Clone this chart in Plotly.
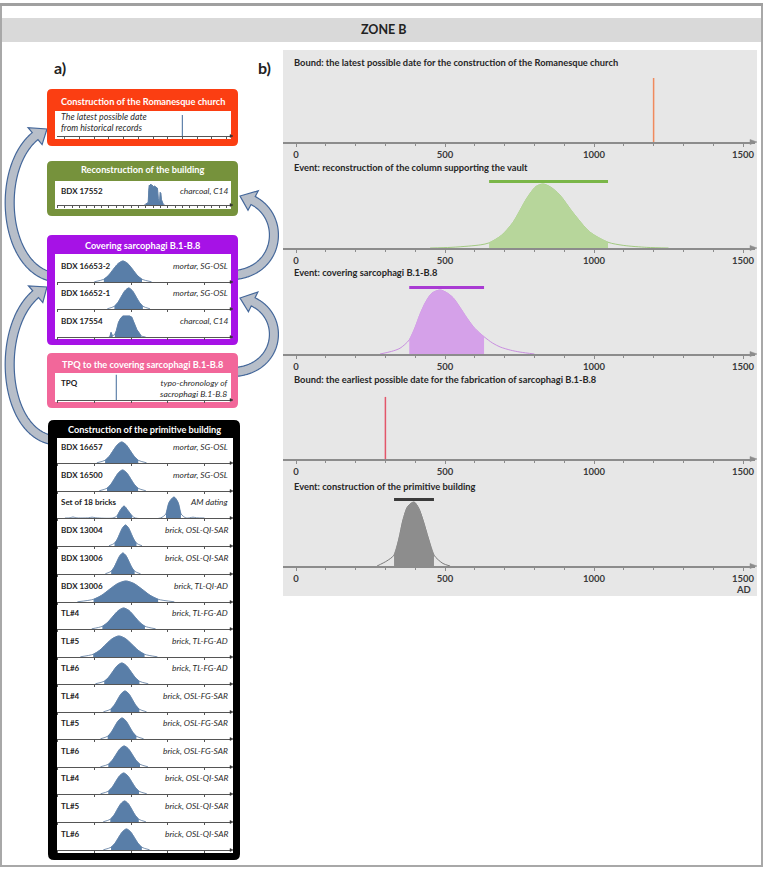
import numpy as np
import plotly.graph_objects as go

W, H = 767, 873
FONT = "Lato"

# ------------------------------------------------------------------ DATA ----
# Panel b : modelled results
b_titles = [
    "Bound: the latest possible date for the construction of the Romanesque church",
    "Event: reconstruction of the column supporting the vault",
    "Event: covering sarcophagi B.1-B.8",
    "Bound: the earliest possible date for the fabrication of sarcophagi B.1-B.8",
    "Event: construction of the primitive building",
]
b_tick_vals = [0, 500, 1000, 1500]
b_tick_text = ["0", "500", "1000", "1500"]
bound_latest_church = 1200
bound_earliest_sarco = 300

recon_years = [450, 520, 580, 620, 648, 690, 728, 775, 805, 829, 855, 885, 930, 986, 1047, 1100, 1177, 1250]
recon_dens = [0.0, 0.01, 0.03, 0.05, 0.08, 0.2, 0.4, 0.78, 0.96, 1.0, 0.95, 0.83, 0.55, 0.25, 0.09, 0.04, 0.01, 0.0]
recon_hpd = (648, 1047)

cover_years = [282, 320, 349, 380, 400, 416, 436, 456, 483, 505, 527, 550, 574, 600, 631, 660, 685, 720, 752, 800]
cover_dens = [0.0, 0.04, 0.09, 0.22, 0.42, 0.62, 0.82, 0.95, 1.0, 0.96, 0.88, 0.73, 0.56, 0.4, 0.27, 0.17, 0.11, 0.06, 0.03, 0.0]
cover_hpd = (380, 631)

prim_years = [272, 305, 329, 345, 359, 375, 396, 412, 426, 445, 463, 493, 517]
prim_dens = [0.0, 0.08, 0.17, 0.42, 0.72, 0.93, 1.0, 0.9, 0.72, 0.42, 0.17, 0.04, 0.0]
prim_hpd = (329, 463)

# Panel a : box titles
box_titles = [
    "Construction of the Romanesque church",
    "Reconstruction of the building",
    "Covering sarcophagi B.1-B.8",
    "TPQ to the covering sarcophagi B.1-B.8",
    "Construction of the primitive building",
]

# Romanesque church (historical record)
church_note = "The latest possible date<br>from historical records"
church_latest = 1200

# Reconstruction of the building
recon_a_label = ["BDX 17552"]
recon_a_method = ["charcoal, C14"]
recon_a_years = [680, 700, 720, 735, 742, 750, 760, 770, 780, 790, 800, 815, 830, 845, 860, 872, 880, 890, 898, 906, 915, 925, 940, 960]
recon_a_dens = [0.0, 0.04, 0.08, 0.12, 0.7, 0.95, 0.85, 1.0, 0.9, 0.95, 0.85, 0.9, 0.88, 0.85, 0.8, 0.3, 0.15, 0.2, 0.6, 0.55, 0.25, 0.1, 0.03, 0.0]
recon_a_hpd = [(700, 940)]

# Covering sarcophagi
cover_a_labels = ["BDX 16653-2", "BDX 16652-1", "BDX 17554"]
cover_a_methods = ["mortar, SG-OSL", "mortar, SG-OSL", "charcoal, C14"]
bdx16653_years = [0, 130, 195, 260, 325, 390, 455, 520, 585, 650, 780]
bdx16653_dens = [0.01, 0.13, 0.32, 0.61, 0.88, 1.0, 0.88, 0.61, 0.32, 0.13, 0.01]
bdx16653_hpd = [(130, 650)]
bdx16652_years = [177, 274, 323, 371, 420, 468, 517, 565, 614, 662, 759]
bdx16652_dens = [0.01, 0.13, 0.32, 0.61, 0.88, 1.0, 0.88, 0.61, 0.32, 0.13, 0.01]
bdx16652_hpd = [(274, 662)]
bdx17554_years = [200, 215, 228, 240, 250, 280, 300, 330, 360, 390, 420, 480, 510, 540, 580, 620, 640, 700]
bdx17554_dens = [0.0, 0.06, 0.22, 0.08, 0.06, 0.12, 0.3, 0.7, 0.9, 1.0, 1.0, 1.0, 0.95, 0.7, 0.35, 0.15, 0.04, 0.0]
bdx17554_hpd = [(215, 250), (280, 640)]

# TPQ
tpq_label = "TPQ"
tpq_note = "typo-chronology of<br>sacrophagi B.1-B.8"
tpq_year = 300

# Construction of the primitive building
prim_a_labels = ["BDX 16657", "BDX 16500", "Set of 18 bricks", "BDX 13004", "BDX 13006",
                 "BDX 13006", "TL#4", "TL#5", "TL#6", "TL#4", "TL#5", "TL#6", "TL#4", "TL#5", "TL#6"]
prim_a_methods = ["mortar, SG-OSL", "mortar, SG-OSL", "AM dating", "brick, OSL-QI-SAR", "brick, OSL-QI-SAR",
                  "brick, TL-QI-AD", "brick, TL-FG-AD", "brick, TL-FG-AD", "brick, TL-FG-AD",
                  "brick, OSL-FG-SAR", "brick, OSL-FG-SAR", "brick, OSL-FG-SAR",
                  "brick, OSL-QI-SAR", "brick, OSL-QI-SAR", "brick, OSL-QI-SAR"]
bell_dens = [0.01, 0.13, 0.32, 0.61, 0.88, 1.0, 0.88, 0.61, 0.32, 0.13, 0.01]
prim_a_years = [
    [34, 147, 204, 260, 317, 373, 430, 486, 543, 599, 712],
    [67, 173, 226, 279, 332, 385, 438, 491, 544, 597, 703],
    [-400, -330, -290, -250, -80, -30, 20, 250, 310, 350, 405, 460, 515, 560,
     900, 977, 1020, 1086, 1140, 1180, 1250, 1300, 1345, 1390, 1500],
    [200, 275, 313, 350, 388, 425, 463, 500, 538, 575, 650],
    [150, 230, 270, 310, 350, 390, 430, 470, 510, 550, 630],
    [-230, -10, 100, 210, 320, 430, 540, 650, 760, 870, 1090],
    [-35, 110, 183, 255, 328, 400, 473, 545, 618, 690, 835],
    [-190, -15, 73, 160, 248, 335, 423, 510, 598, 685, 860],
    [15, 135, 195, 255, 315, 375, 435, 495, 555, 615, 735],
    [124, 222, 271, 320, 369, 418, 467, 516, 565, 614, 712],
    [84, 182, 231, 280, 329, 378, 427, 476, 525, 574, 672],
    [83, 191, 245, 299, 353, 407, 461, 515, 569, 623, 731],
    [85, 190, 243, 295, 348, 400, 453, 505, 558, 610, 715],
    [121, 218, 267, 315, 364, 412, 461, 509, 558, 606, 703],
    [123, 228, 281, 333, 386, 438, 491, 543, 596, 648, 753],
]
am_dens = [0.0, 0.01, 0.05, 0.01, 0.01, 0.04, 0.01, 0.0, 0.1, 0.35, 0.57, 0.35, 0.1, 0.0,
           0.0, 0.2, 0.75, 1.0, 0.75, 0.2, 0.0, 0.01, 0.04, 0.01, 0.0]
prim_a_dens = [bell_dens, bell_dens, am_dens] + [bell_dens] * 12
prim_a_hpd = [
    [(147, 599)], [(173, 597)], [(310, 515), (977, 1180)], [(275, 575)], [(230, 550)],
    [(-10, 870)], [(110, 690)], [(-15, 685)], [(135, 615)], [(222, 614)],
    [(182, 574)], [(191, 623)], [(190, 610)], [(218, 606)], [(228, 648)],
]

# ---------------------------------------------------------------- HELPERS ---
def X(px):
    return px / W


def Y(py):
    return 1 - py / H


layout = dict(width=W, height=H, autosize=False, margin=dict(l=0, r=0, t=0, b=0, pad=0),
              paper_bgcolor="white", plot_bgcolor="rgba(0,0,0,0)", showlegend=False,
              font=dict(family=FONT, color="#222"), hovermode=False)
shapes, annotations, traces = [], [], []
n_axes = [0]


def new_axes(x0, x1, axis_py, height_px, xrange, ymax, xkw):
    n_axes[0] += 1
    n = n_axes[0]
    s = "" if n == 1 else str(n)
    layout["xaxis" + s] = dict(domain=[X(x0), X(x1)], range=xrange, anchor="y" + s, showgrid=False,
                               zeroline=False, fixedrange=True, **xkw)
    layout["yaxis" + s] = dict(domain=[Y(axis_py), Y(axis_py - height_px)], range=[0, ymax],
                               anchor="x" + s, visible=False, fixedrange=True)
    return "x" + s, "y" + s


def add_density(xs, ys, xa, ya, hpds, fill, line, shape="spline", lw=0.8):
    traces.append(go.Scatter(x=xs, y=ys, mode="lines", xaxis=xa, yaxis=ya,
                             line=dict(color=line, width=lw, shape=shape, smoothing=0.8)))
    for lo, hi in hpds:
        sx = [x for x in xs if lo <= x <= hi]
        sy = [y for x, y in zip(xs, ys) if lo <= x <= hi]
        traces.append(go.Scatter(x=sx, y=sy, mode="lines", fill="tozeroy", fillcolor=fill,
                                 xaxis=xa, yaxis=ya,
                                 line=dict(color=fill, width=0.6, shape=shape, smoothing=0.8)))


def rrect_path(x0, y0, x1, y1, r):
    c = lambda x, y: f"{X(x):.5f},{Y(y):.5f}"
    return (f"M {c(x0 + r, y0)} L {c(x1 - r, y0)} Q {c(x1, y0)} {c(x1, y0 + r)} "
            f"L {c(x1, y1 - r)} Q {c(x1, y1)} {c(x1 - r, y1)} L {c(x0 + r, y1)} "
            f"Q {c(x0, y1)} {c(x0, y1 - r)} L {c(x0, y0 + r)} Q {c(x0, y0)} {c(x0 + r, y0)} Z")


def add_rrect(x0, y0, x1, y1, r, fill, line=None, lw=0):
    shapes.append(dict(type="path", xref="paper", yref="paper", layer="below",
                       path=rrect_path(x0, y0, x1, y1, r), fillcolor=fill,
                       line=dict(color=line or fill, width=lw)))


def add_rect(x0, y0, x1, y1, fill, line=None, lw=0):
    shapes.append(dict(type="rect", xref="paper", yref="paper", layer="below",
                       x0=X(x0), x1=X(x1), y0=Y(y1), y1=Y(y0), fillcolor=fill,
                       line=dict(color=line or fill, width=lw)))


def add_tri(pts, color):
    shapes.append(dict(type="path", xref="paper", yref="paper", layer="above",
                       path="M " + " L ".join(f"{X(x):.5f},{Y(y):.5f}" for x, y in pts) + " Z",
                       fillcolor=color, line=dict(color=color, width=0.5)))


def arrow_path(p0, p1, p2, p3, wb=4.5, wh=11.0, hl=14.0):
    t = np.linspace(0, 1, 240)[:, None]
    p0, p1, p2, p3 = map(np.array, (p0, p1, p2, p3))
    pts = (1 - t) ** 3 * p0 + 3 * (1 - t) ** 2 * t * p1 + 3 * (1 - t) * t ** 2 * p2 + t ** 3 * p3
    seg = np.r_[0, np.cumsum(np.hypot(*np.diff(pts, axis=0).T))]
    k = int(np.searchsorted(seg, seg[-1] - hl))
    tan = np.gradient(pts, axis=0)
    tan /= np.hypot(tan[:, 0], tan[:, 1])[:, None]
    nor = np.c_[-tan[:, 1], tan[:, 0]]
    sh, nn = pts[:k + 1], nor[:k + 1]
    left = sh + nn * wb
    right = sh - nn * wb
    e, ne = pts[k], nor[k]
    poly = list(left) + [e + ne * wh, p3, e - ne * wh] + list(right[::-1])
    return "M " + " L ".join(f"{X(x):.5f},{Y(y):.5f}" for x, y in poly) + " Z"


def add_arrow(p0, p1, p2, p3):
    shapes.append(dict(type="path", xref="paper", yref="paper", layer="below",
                       path=arrow_path(p0, p1, p2, p3), fillcolor="#b7bec9",
                       line=dict(color="#44679a", width=1.2)))


def text(x, y, s, size=8, color="#222", xanchor="left", yanchor="middle", bold=False, italic=False):
    if bold:
        s = f"<b>{s}</b>"
    if italic:
        s = f"<i>{s}</i>"
    annotations.append(dict(x=X(x), y=Y(y), xref="paper", yref="paper", text=s, showarrow=False,
                            xanchor=xanchor, yanchor=yanchor, align=xanchor if xanchor != "center" else "center",
                            font=dict(size=size, color=color, family=FONT)))


# ------------------------------------------------------------- FRAME -------
add_rect(0, 18, 761, 42, "#d9d9d9")
shapes.append(dict(type="rect", xref="paper", yref="paper", layer="below",
                   x0=X(1), x1=X(762), y0=Y(866), y1=Y(5), fillcolor="rgba(0,0,0,0)",
                   line=dict(color="#a8a8a8", width=2)))
shapes.append(dict(type="line", xref="paper", yref="paper", layer="below",
                   x0=X(0), x1=X(763), y0=Y(4.5), y1=Y(4.5), line=dict(color="#a0a0a0", width=3)))
text(384, 30, "ZONE B", size=12.5, bold=True, xanchor="center")
text(52, 68, "a)", size=16, bold=True)
text(256, 68, "b)", size=16, bold=True)

# ------------------------------------------------------------- PANEL b -----
add_rect(283, 50, 757, 596, "#e7e7e7")
b_axes_py = [142, 248, 354, 459, 566]
b_title_py = [63, 167, 272, 379, 486]
b_xr = [(283 - 296) / 0.298, (755 - 296) / 0.298]
b_xkw = dict(showline=True, linecolor="#8c8c8c", linewidth=1.5, ticks="outside", ticklen=3,
             tickcolor="#8c8c8c", tickwidth=1, tickmode="array", tickvals=b_tick_vals,
             ticktext=b_tick_text, tickfont=dict(size=9.5, color="#3a3a3a", family=FONT, weight="bold"),
             minor=dict(tickmode="linear", tick0=0, dtick=100, ticks="outside", ticklen=2,
                        tickcolor="#8c8c8c", showgrid=False))
b_ax = []
for i, py in enumerate(b_axes_py):
    b_ax.append(new_axes(283, 755, py, 85, b_xr, 85 / 64, b_xkw))
    text(292, b_title_py[i], b_titles[i], size=9.3, bold=True, color="#262626")
    add_tri([(750, py - 2.5), (757, py), (750, py + 2.5)], "#8c8c8c")
text(743, 589, "AD", size=9.5, bold=True, xanchor="center", color="#3a3a3a")

BAR_Y = 1.04
# row 1: bound
traces.append(go.Scatter(x=[bound_latest_church] * 2, y=[0, 1.0], mode="lines", xaxis=b_ax[0][0],
                         yaxis=b_ax[0][1], line=dict(color="#f08a5d", width=1.5)))
# row 2: reconstruction
add_density(recon_years, recon_dens, *b_ax[1], [recon_hpd], "#b7d69b", "#a3cb82", lw=1)
traces.append(go.Scatter(x=list(recon_hpd), y=[BAR_Y] * 2, mode="lines", xaxis=b_ax[1][0],
                         yaxis=b_ax[1][1], line=dict(color="#7ab648", width=3)))
# row 3: covering
add_density(cover_years, cover_dens, *b_ax[2], [cover_hpd], "#d5a1e9", "#c98fe0", lw=1)
traces.append(go.Scatter(x=list(cover_hpd), y=[BAR_Y] * 2, mode="lines", xaxis=b_ax[2][0],
                         yaxis=b_ax[2][1], line=dict(color="#a93bd3", width=3)))
# row 4: bound
traces.append(go.Scatter(x=[bound_earliest_sarco] * 2, y=[0, 0.97], mode="lines", xaxis=b_ax[3][0],
                         yaxis=b_ax[3][1], line=dict(color="#e3566a", width=1.5)))
# row 5: primitive building
add_density(prim_years, prim_dens, *b_ax[4], [prim_hpd], "#8d8d8d", "#7a7a7a", lw=1)
traces.append(go.Scatter(x=list(prim_hpd), y=[BAR_Y] * 2, mode="lines", xaxis=b_ax[4][0],
                         yaxis=b_ax[4][1], line=dict(color="#3a3a3a", width=3)))

# ------------------------------------------------------------- PANEL a -----
# arrows (drawn under the boxes)
add_arrow((52, 277), (-2, 265), (-5, 150), (47, 129))
add_arrow((52, 440), (-2, 430), (-5, 310), (47, 287))
add_arrow((235, 275), (285, 270), (287, 205), (240, 196))
add_arrow((235, 372), (285, 368), (287, 305), (240, 298))

A_X0, A_X1 = 57, 231
a_xr = [(A_X0 - 94.3) / 0.0734, (A_X1 - 94.3) / 0.0734]
BLUE_FILL, BLUE_LINE = "#597ea8", "#55759b"


def a_xkw(dt):
    return dict(showline=True, linecolor="#555", linewidth=1, ticks="outside", ticklen=2,
                tickcolor="#555", tickwidth=1, tickmode="linear", tick0=0, dtick=dt,
                showticklabels=False)


def a_row(axis_py, label, method, dt=500, label_dy=16):
    ax = new_axes(A_X0, A_X1, axis_py, 26, a_xr, 26 / 21, a_xkw(dt))
    add_tri([(A_X1 - 1, axis_py - 1.5), (A_X1 + 2, axis_py), (A_X1 - 1, axis_py + 1.5)], "#333")
    if label:
        text(59, axis_py - label_dy, label, size=8, bold=True)
    if method:
        text(230, axis_py - label_dy, method, size=8.4, italic=True, xanchor="right", color="#2a2a2a")
    return ax


box_colors = ["#fb3e12", "#76923c", "#a612e6", "#f2679a", "#000000"]
box_geom = [(47, 89, 238, 146), (47, 161, 238, 216), (47, 235, 238, 345), (47, 353, 238, 408)]
inner_geom = [(55, 111, 231, 139), (55, 181, 231, 209), (55, 254, 231, 339), (55, 373, 231, 402)]
title_py = [101, 170, 245, 364]
for i in range(4):
    add_rrect(*box_geom[i], 5, box_colors[i])
    add_rect(*inner_geom[i], "white")
    text(142.5, title_py[i], box_titles[i], size=9.2, bold=True, color="white", xanchor="center")
# black box
add_rrect(48, 420, 240, 860, 6, "#000000")
add_rect(57, 438, 233, 853, "white")
text(144, 429, box_titles[4], size=9.2, bold=True, color="white", xanchor="center")

# Romanesque church
ax = a_row(136, None, None, dt=200)
text(59, 122, church_note, size=8.8, italic=True, color="#2a2a2a")
traces.append(go.Scatter(x=[church_latest] * 2, y=[0, 1.0], mode="lines", xaxis=ax[0], yaxis=ax[1],
                         line=dict(color="#5f82ab", width=1.2)))

# Reconstruction of the building
ax = a_row(205, recon_a_label[0], recon_a_method[0], dt=100, label_dy=14)
add_density(recon_a_years, recon_a_dens, *ax, recon_a_hpd, BLUE_FILL, BLUE_LINE, shape="linear")

# Covering sarcophagi
cover_sets = [(bdx16653_years, bdx16653_dens, bdx16653_hpd, "spline"),
              (bdx16652_years, bdx16652_dens, bdx16652_hpd, "spline"),
              (bdx17554_years, bdx17554_dens, bdx17554_hpd, "linear")]
for py, lab, met, (ys_, ds_, hp_, shp) in zip([282, 309, 337], cover_a_labels, cover_a_methods, cover_sets):
    ax = a_row(py, lab, met)
    add_density(ys_, ds_, *ax, hp_, BLUE_FILL, BLUE_LINE, shape=shp)

# TPQ
ax = a_row(400, tpq_label, None, label_dy=17)
text(230, 388, tpq_note, size=8.5, italic=True, xanchor="right", color="#2a2a2a")
traces.append(go.Scatter(x=[tpq_year] * 2, y=[0, 1.2], mode="lines", xaxis=ax[0], yaxis=ax[1],
                         line=dict(color="#5f82ab", width=1.2)))

# Primitive building
prim_axes_py = [463, 491, 518, 546, 574, 602, 629, 657, 684, 712, 739, 767, 794, 822, 850]
for py, lab, met, ys_, ds_, hp_ in zip(prim_axes_py, prim_a_labels, prim_a_methods,
                                      prim_a_years, prim_a_dens, prim_a_hpd):
    ax = a_row(py, lab, met)
    add_density(ys_, ds_, *ax, hp_, BLUE_FILL, BLUE_LINE)

# ------------------------------------------------------------- OUTPUT ------
for tr in traces:
    tr.update(hoverinfo="skip", showlegend=False)
fig = go.Figure(data=traces)
layout["shapes"] = shapes
layout["annotations"] = annotations
fig.update_layout(**layout)
fig.write_html("out.html")
